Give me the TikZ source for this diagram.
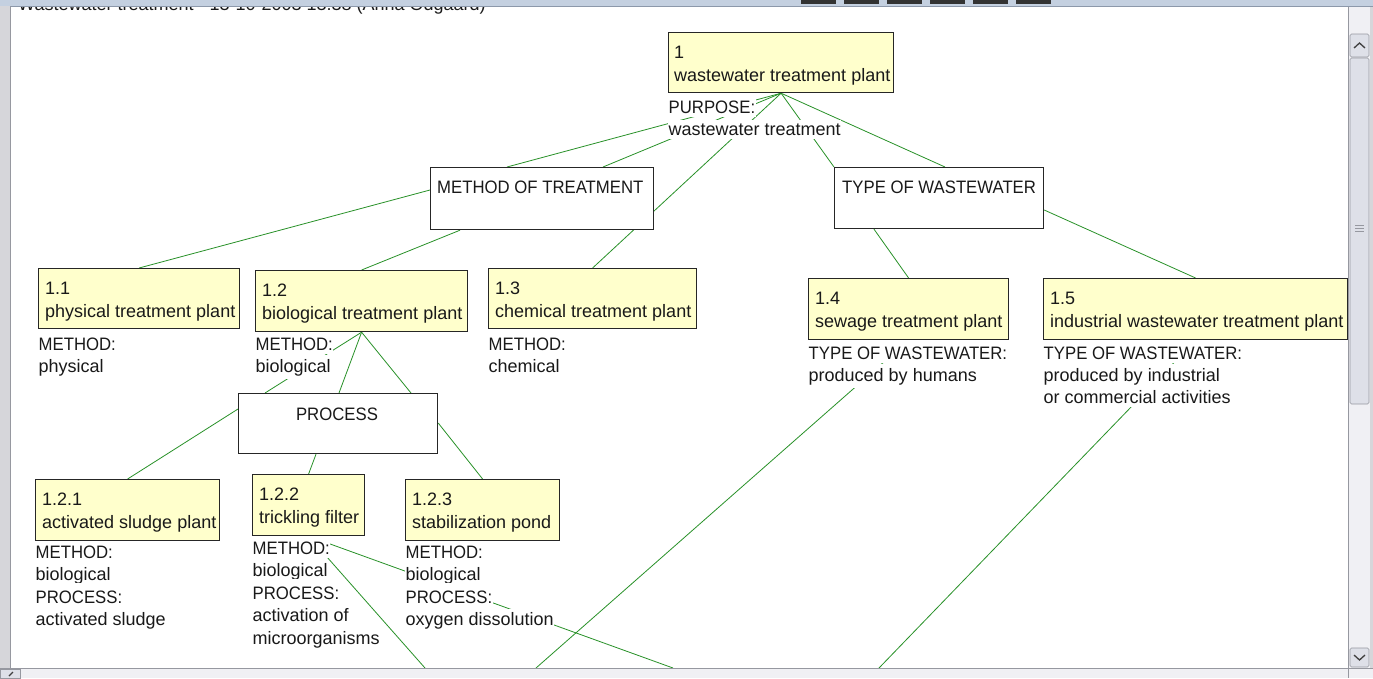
\documentclass[tikz,border=0pt]{standalone}
\usepackage{fontspec}
\setmainfont{Liberation Sans}
\newfontfamily\capsnarrow[FakeStretch=0.93]{Liberation Sans}
\usetikzlibrary{backgrounds,calc}
\definecolor{boxyellow}{RGB}{255,255,204}
\definecolor{linkgreen}{RGB}{40,145,40}
\definecolor{chromegray}{RGB}{214,214,218}
\definecolor{bandblue}{RGB}{196,208,224}
\definecolor{bandline}{RGB}{140,152,170}
\definecolor{tracklight}{RGB}{240,240,244}
\definecolor{thumbgray}{RGB}{222,224,232}
\definecolor{edgegray}{RGB}{150,152,160}
\begin{document}
\begin{tikzpicture}[x=1pt,y=-1pt,
  conceptbox/.style={draw=black!85, line width=1.2pt, fill=boxyellow, inner sep=0pt, anchor=north west},
  catbox/.style={draw=black!85, line width=1.2pt, fill=white, inner sep=0pt, anchor=north west},
  txt/.style={anchor=base west, inner sep=0pt, font=\fontsize{18}{22}\selectfont, text=black!90},
  captxt/.style={txt, font=\fontsize{18}{22}\capsnarrow},
  lbl/.style={txt, fill=white, inner ysep=3.5pt, inner xsep=0.5pt},
  caplbl/.style={lbl, font=\fontsize{18}{22}\capsnarrow, text height=17pt},
  link/.style={draw=linkgreen, line width=0.8pt}]
\useasboundingbox (0,0) rectangle (1373,678);

% ---------- attribute labels (white backing hides the links) ----------
\node[caplbl] (l1a) at (668,113) {PURPOSE:};
\node[lbl] (l1b) at (668,135) {wastewater treatment};
\node[caplbl] (l11a) at (38,350) {METHOD:};
\node[lbl] (l11b) at (38,372) {physical};
\node[caplbl] (l12a) at (255,350) {METHOD:};
\node[lbl] (l12b) at (255,372) {biological};
\node[caplbl] (l13a) at (488,350) {METHOD:};
\node[lbl] (l13b) at (488,372) {chemical};
\node[caplbl] (l14a) at (808,359) {TYPE OF WASTEWATER:};
\node[lbl] (l14b) at (808,381) {produced by humans};
\node[caplbl] (l15a) at (1043,359) {TYPE OF WASTEWATER:};
\node[lbl] (l15b) at (1043,381) {produced by industrial};
\node[lbl] (l15c) at (1043,403) {or commercial activities};
\node[caplbl] (l121a) at (35,558) {METHOD:};
\node[lbl] (l121b) at (35,580.5) {biological};
\node[caplbl] (l121c) at (35,603) {PROCESS:};
\node[lbl] (l121d) at (35,625.5) {activated sludge};
\node[caplbl] (l122a) at (252,554) {METHOD:};
\node[lbl] (l122b) at (252,576.5) {biological};
\node[caplbl] (l122c) at (252,599) {PROCESS:};
\node[lbl] (l122d) at (252,621.5) {activation of};
\node[lbl] (l122e) at (252,644) {microorganisms};
\node[caplbl] (l123a) at (405,558) {METHOD:};
\node[lbl] (l123b) at (405,580.5) {biological};
\node[caplbl] (l123c) at (405,603) {PROCESS:};
\node[lbl] (l123d) at (405,625.5) {oxygen dissolution};

% ---------- boxes ----------
\node[conceptbox, minimum width=225pt, minimum height=60pt] (n1) at (668,32) {};
\node[catbox, minimum width=223pt, minimum height=62pt] (mot) at (430,167) {};
\node[catbox, minimum width=209pt, minimum height=61pt] (tow) at (834,167) {};
\node[catbox, minimum width=199pt, minimum height=60pt] (proc) at (238,393) {};
\node[conceptbox, minimum width=201pt, minimum height=60pt] (n11) at (38,268) {};
\node[conceptbox, minimum width=212pt, minimum height=61pt] (n12) at (255,270) {};
\node[conceptbox, minimum width=208pt, minimum height=60pt] (n13) at (488,268) {};
\node[conceptbox, minimum width=200pt, minimum height=61pt] (n14) at (808,278) {};
\node[conceptbox, minimum width=304pt, minimum height=61pt] (n15) at (1043,278) {};
\node[conceptbox, minimum width=184pt, minimum height=61pt] (n121) at (35,479) {};
\node[conceptbox, minimum width=112pt, minimum height=61pt] (n122) at (252,474) {};
\node[conceptbox, minimum width=154pt, minimum height=61pt] (n123) at (405,479) {};

% ---------- box texts ----------
\node[txt] (t1a) at (674,58) {1};
\node[txt] (t1b) at (674,81) {wastewater treatment plant};
\node[captxt] (tmot) at (437,193) {METHOD OF TREATMENT};
\node[captxt] (ttow) at (842,193) {TYPE OF WASTEWATER};
\node[captxt, anchor=base] (tproc) at (337,420) {PROCESS};
\node[txt] (t11a) at (45,294) {1.1};
\node[txt] (t11b) at (45,317) {physical treatment plant};
\node[txt] (t12a) at (262,296) {1.2};
\node[txt] (t12b) at (262,319) {biological treatment plant};
\node[txt] (t13a) at (495,294) {1.3};
\node[txt] (t13b) at (495,317) {chemical treatment plant};
\node[txt] (t14a) at (815,304) {1.4};
\node[txt] (t14b) at (815,327) {sewage treatment plant};
\node[txt] (t15a) at (1050,304) {1.5};
\node[txt] (t15b) at (1050,327) {industrial wastewater treatment plant};
\node[txt] (t121a) at (42,505) {1.2.1};
\node[txt] (t121b) at (42,528) {activated sludge plant};
\node[txt] (t122a) at (259,500) {1.2.2};
\node[txt] (t122b) at (259,523) {trickling filter};
\node[txt] (t123a) at (412,505) {1.2.3};
\node[txt] (t123b) at (412,528) {stabilization pond};

% free ends of the links leaving the visible area
\coordinate (off1) at (673,668);
\coordinate (off2) at (425,668);
\coordinate (off3) at (536,668);
\coordinate (off4) at (879,668);

% ---------- connectors (behind everything) ----------
\begin{pgfonlayer}{background}
\fill[white] (0,0) rectangle (1373,678);
\draw[link] ($(mot.north west)+(77,0)$) -- (n1.south);
\draw[link] ($(mot.north west)+(173,0)$) -- (n1.south);
\draw[link] (n13.north) -- (n1.south);
\draw[link] (tow.north west) -- (n1.south);
\draw[link] ($(tow.north west)+(111,0)$) -- (n1.south);
\draw[link] (n11.north) -- ($(mot.north west)+(0,23)$);
\draw[link] (n12.north) -- ($(mot.south west)+(30,0)$);
\draw[link] (n14.north) -- ($(tow.south west)+(40,0)$);
\draw[link] (n15.north) -- ($(tow.north east)+(0,43)$);
\draw[link] (n12.south) -- ($(proc.north west)+(101,0)$);
\draw[link] (n12.south) -- ($(proc.north west)+(173,0)$);
\draw[link] (n12.south) -- ($(proc.north west)+(27,0)$);
\draw[link] (n121.north) -- ($(proc.north west)+(0,16)$);
\draw[link] (n122.north) -- ($(proc.south west)+(78,0)$);
\draw[link] (n123.north) -- ($(proc.north east)+(0,30)$);
\draw[link] (n122.south) -- (off1);
\draw[link] (n122.south) -- (off2);
\draw[link] (n14.south) -- (off3);
\draw[link] (n15.south) -- (off4);
\end{pgfonlayer}

% ---------- window chrome ----------
\node[txt] (title) at (18,10.5) {Wastewater treatment - 13-10-2003 13:38 (Anna Odgaard)};
\fill[bandblue] (0,0) rectangle (1373,6);
\draw[bandline, line width=1pt] (0,6) -- (1373,6);
\foreach \sx in {801,844,887,930,973,1016}
  \fill[black!80] (\sx,0) rectangle ++(35,4);
% left frame
\fill[chromegray] (0,6) rectangle (10,678);
\draw[edgegray, line width=0.8pt] (10,6) -- (10,668);
% right scrollbar
\fill[tracklight] (1348,6.5) rectangle (1373,668);
\draw[edgegray, line width=0.8pt] (1348,6.5) -- (1348,668);
\draw[edgegray, line width=0.6pt, fill=thumbgray, rounded corners=1.5pt] (1350,34) rectangle (1369,57);
\draw[black!75, line width=1.3pt] (1354,48) -- (1359.5,43) -- (1365,48);
\draw[edgegray, line width=0.6pt, fill=thumbgray, rounded corners=1.5pt] (1350,58) rectangle (1369,404);
\foreach \gy in {225,228,231} \draw[edgegray, line width=0.5pt] (1355,\gy) -- (1364,\gy);
\draw[edgegray, line width=0.6pt, fill=thumbgray, rounded corners=1.5pt] (1350,648) rectangle (1369,667);
\draw[black!75, line width=1.3pt] (1354,655) -- (1359.5,660) -- (1365,655);
\fill[chromegray] (1370,6.5) rectangle (1373,678);
% bottom scrollbar
\fill[tracklight] (0,668) rectangle (1373,678);
\draw[edgegray, line width=0.8pt] (0,668) -- (1373,668);
\draw[edgegray, line width=0.6pt, fill=thumbgray] (0,669) rectangle (20,678);
\draw[black!75, line width=1.2pt] (13,672) -- (9,676);
\draw[edgegray, line width=0.6pt] (1348,669) -- (1348,678);
\end{tikzpicture}
\end{document}
